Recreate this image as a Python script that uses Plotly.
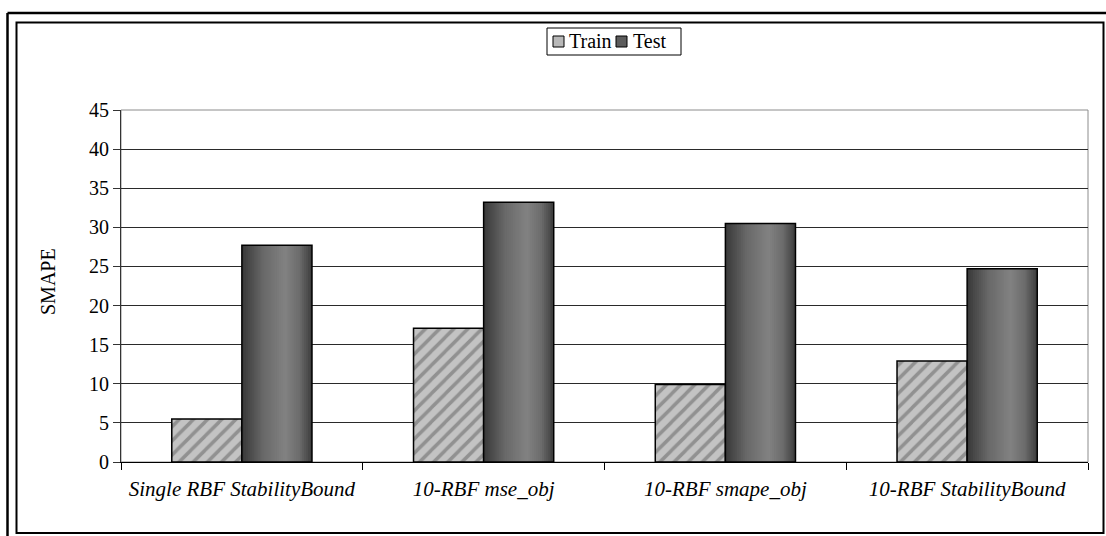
import plotly.graph_objects as go

# SMAPE of each model configuration on training and test data
categories = ["Single RBF StabilityBound", "10-RBF mse_obj", "10-RBF smape_obj", "10-RBF StabilityBound"]
train_smape = [5.5, 17.1, 9.9, 12.9]
test_smape = [27.7, 33.2, 30.5, 24.7]
y_ticks = [0, 5, 10, 15, 20, 25, 30, 35, 40, 45]
series_names = ["Train", "Test"]

W, H = 1106, 536
L, R, T, B = 121, 18, 110, 74
PW, PH = W - L - R, H - T - B
FONT = "Liberation Serif, Times New Roman, serif"
FS = 20

def px(x):
    return (x - L) / PW

def py(y):
    return (H - B - y) / PH

bar_w = 0.29  # width of one bar in category units

# dark-light-dark horizontal shading for the Test bars
stops = [(0.0, 0x38), (0.3, 0x68), (0.62, 0x82), (0.82, 0x6c), (1.0, 0x3c)]

def shade(t):
    for (t0, v0), (t1, v1) in zip(stops[:-1], stops[1:]):
        if t0 <= t <= t1:
            v = int(round(v0 + (v1 - v0) * (t - t0) / (t1 - t0)))
            return f"rgb({v},{v},{v})"
    return "rgb(60,60,60)"

N = 36
step = bar_w / N
sx, sy, soff, sw, scol = [], [], [], [], []
for i in range(N):
    t = (i + 0.5) / N
    off = i * step
    width = min(step * 2.5, bar_w - off)
    for c, v in zip(categories, test_smape):
        sx.append(c)
        sy.append(v)
        soff.append(off)
        sw.append(width)
        scol.append(shade(t))

fig = go.Figure()

fig.add_trace(go.Bar(
    x=categories, y=train_smape, name=series_names[0], showlegend=False,
    offset=-bar_w, width=bar_w,
    marker=dict(
        color="#c3c3c3",
        line=dict(color="black", width=1.5),
        pattern=dict(shape="/", bgcolor="#c3c3c3", fgcolor="#919191",
                     fgopacity=1, size=10, solidity=0.35),
    ),
))

fig.add_trace(go.Bar(
    x=sx, y=sy, offset=soff, width=sw, showlegend=False,
    marker=dict(color=scol, line=dict(width=0)), hoverinfo="skip",
))

fig.add_trace(go.Bar(
    x=categories, y=test_smape, name=series_names[1], showlegend=False,
    offset=0, width=bar_w,
    marker=dict(color="rgba(0,0,0,0)", line=dict(color="black", width=1.5)),
))

shapes = [
    # plot area border
    dict(type="rect", xref="paper", yref="paper", x0=px(121), x1=px(1088),
         y0=py(462), y1=py(110), line=dict(color="#8c8c8c", width=1), layer="below"),
    # double page frame
    dict(type="line", xref="paper", yref="paper", x0=px(7.5), x1=px(7.5),
         y0=py(13), y1=py(545), line=dict(color="black", width=2.5)),
    dict(type="line", xref="paper", yref="paper", x0=px(7.5), x1=px(1115),
         y0=py(13), y1=py(13), line=dict(color="black", width=2.5)),
    dict(type="rect", xref="paper", yref="paper", x0=px(16.5), x1=px(1103.5),
         y0=py(533), y1=py(22.5), line=dict(color="black", width=2)),
    # legend box and swatches
    dict(type="rect", xref="paper", yref="paper", x0=px(547), x1=px(681),
         y0=py(55), y1=py(28), line=dict(color="black", width=1), fillcolor="white"),
    dict(type="rect", xref="paper", yref="paper", x0=px(553), x1=px(564),
         y0=py(47), y1=py(36), line=dict(color="black", width=1), fillcolor="#b8b8b8"),
    dict(type="rect", xref="paper", yref="paper", x0=px(616), x1=px(627),
         y0=py(47), y1=py(36), line=dict(color="black", width=1), fillcolor="#5c5c5c"),
]

annotations = [
    dict(text="SMAPE", xref="paper", yref="paper", x=px(48), y=py(282),
         xanchor="center", yanchor="middle",
         textangle=-90, showarrow=False, font=dict(family=FONT, size=FS, color="black")),
    dict(text=series_names[0], xref="paper", yref="paper", x=px(567), y=py(41),
         xanchor="left", yanchor="middle", showarrow=False,
         font=dict(family=FONT, size=FS, color="black")),
    dict(text=series_names[1], xref="paper", yref="paper", x=px(631), y=py(41),
         xanchor="left", yanchor="middle", showarrow=False,
         font=dict(family=FONT, size=FS, color="black")),
]

fig.update_layout(
    width=W, height=H,
    margin=dict(l=L, r=R, t=T, b=B, pad=0),
    paper_bgcolor="white", plot_bgcolor="white",
    barmode="overlay",
    font=dict(family=FONT, size=FS, color="black"),
    showlegend=False,
    shapes=shapes,
    annotations=annotations,
)

fig.update_xaxes(
    type="category", range=[-0.5, 3.5],
    showgrid=False, showline=True, linecolor="black", linewidth=1,
    ticks="outside", tickson="boundaries", ticklen=7, tickcolor="black",
    tickfont=dict(family=FONT, size=21, color="black", style="italic"),
    ticklabelstandoff=8,
)

fig.update_yaxes(
    range=[0, 45], tickvals=y_ticks,
    showgrid=True, gridcolor="#2a2a2a", gridwidth=1,
    showline=True, linecolor="#333333", linewidth=1,
    ticks="outside", ticklen=7, tickcolor="#333333",
    tickfont=dict(family=FONT, size=FS, color="black"),
    zeroline=False,
)

fig.write_html("out.html")
